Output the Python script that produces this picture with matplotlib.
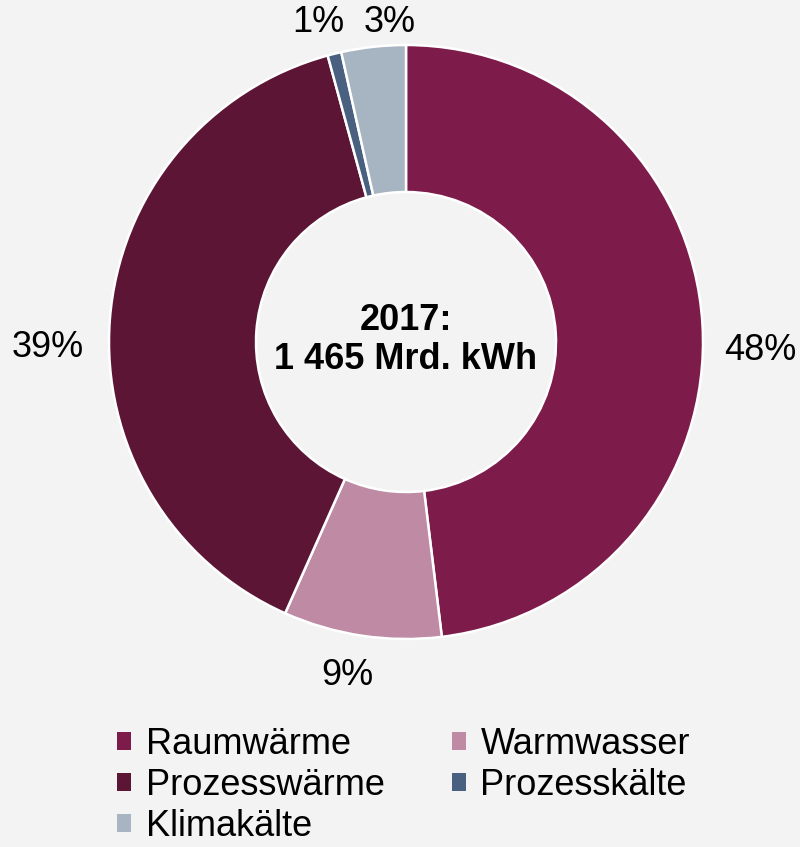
import matplotlib
matplotlib.use("Agg")
import matplotlib.pyplot as plt

categories = ["Raumwärme", "Warmwasser", "Prozesswärme", "Prozesskälte", "Klimakälte"]
values = [48.1, 8.6, 39.1, 0.75, 3.5]
labels = ["48%", "9%", "39%", "1%", "3%"]
colors = ["#7D1B4A", "#BE8AA4", "#5C1535", "#4A6080", "#A7B4C2"]
center_text = "2017:\n1 465 Mrd. kWh"

plt.rcParams['font.family'] = ['Liberation Sans', 'DejaVu Sans']
bg = "#F3F3F3"
FS = 26

fig = plt.figure(figsize=(8.0, 8.47), dpi=100, facecolor=bg)
ax = fig.add_axes([0, 0, 1, 1])
ax.set_facecolor(bg)

wedges, _ = ax.pie(values, colors=colors, startangle=90, counterclock=False,
                   radius=1.0, wedgeprops=dict(width=1 - 150/297, edgecolor='white', linewidth=1.8))
ax.set_aspect('auto')
ax.set_xlim(-406/297, 394/297)
ax.set_ylim(-(847-342)/297, 342/297)
ax.axis('off')

# percentage labels (positions in pixel-space converted to data)
label_px = [(760, 350), (347, 675), (48, 347), (318, 22), (390, 22)]
for lab, (px, py) in zip(labels, label_px):
    ax.text((px - 406)/297, (342 - py)/297, lab, ha='center', va='center', fontsize=FS, color='black')

ax.text(0, (342-340)/297, center_text, ha='center', va='center', fontsize=FS, fontweight='bold',
        linespacing=1.12, color='black')

order = [0, 2, 4, 1, 3]
leg = fig.legend([wedges[i] for i in order], [categories[i] for i in order],
                 ncol=2, loc='upper left', bbox_to_anchor=(117/800, 1 - 727/847),
                 frameon=False, fontsize=FS, handlelength=0.4, handleheight=0.4,
                 handletextpad=0.4, columnspacing=1.85, labelspacing=0.17, borderpad=0, borderaxespad=0)
for h in leg.legend_handles:
    h.set_edgecolor('none')

fig.savefig("out.png", dpi=100, facecolor=bg)
